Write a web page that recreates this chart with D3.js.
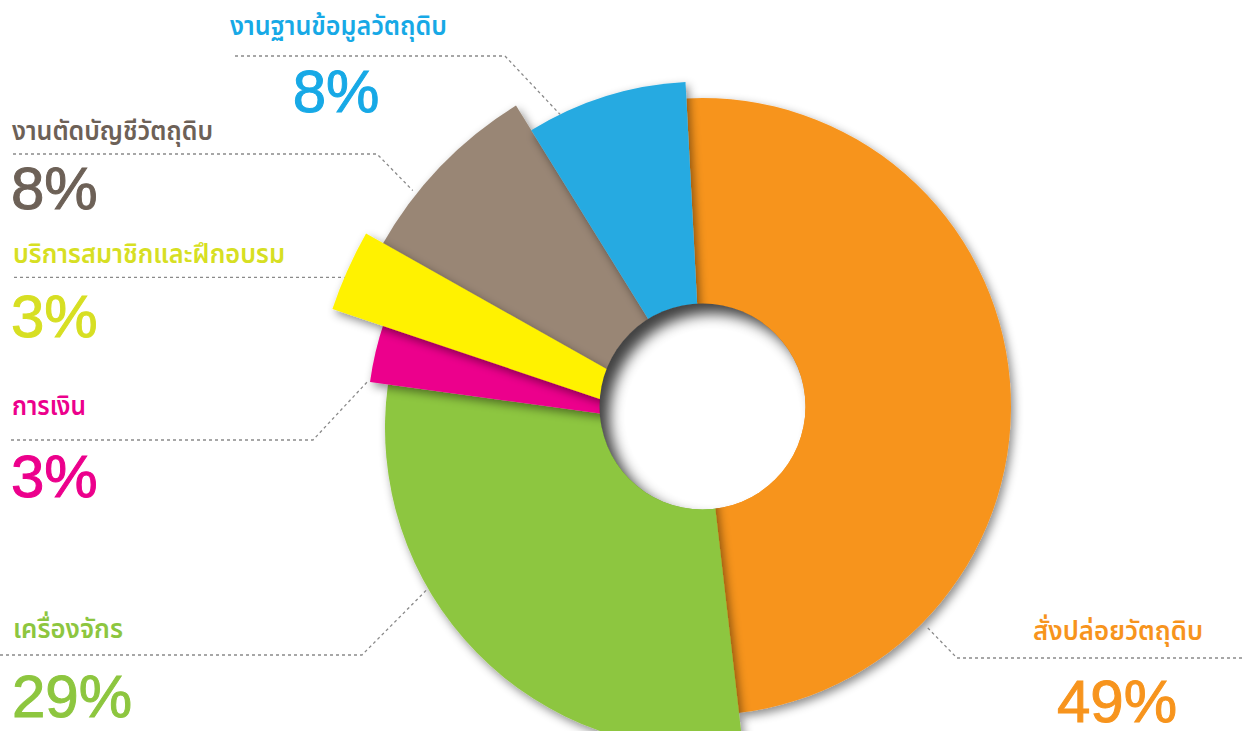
<!DOCTYPE html>
<html>
<head>
<meta charset="utf-8">
<script src="https://cdn.jsdelivr.net/npm/d3@7"></script>
<style>
  html, body { margin: 0; padding: 0; background: #fff; }
  svg { display: block; }
  .title { font-family: "Noto Sans Thai", "Loma", "Garuda", "Tlwg Typo", "Noto Sans", sans-serif; font-weight: 600; }
  .pct { font-family: "Liberation Sans", Arial, sans-serif; }
</style>
</head>
<body>
<div id="chart"></div>
<script>
// data
var categories = ["สั่งปล่อยวัตถุดิบ", "เครื่องจักร", "การเงิน", "บริการสมาชิกและฝึกอบรม", "งานตัดบัญชีวัตถุดิบ", "งานฐานข้อมูลวัตถุดิบ"];
var values = [49, 29, 3, 3, 8, 8];
var pctLabels = ["49%", "29%", "3%", "3%", "8%", "8%"];
var sliceColors = ["#f7941e", "#8dc63f", "#ec008c", "#fff200", "#998675", "#27aae1"];
var textColors = ["#f7941d", "#8dc63f", "#ec008c", "#d7df23", "#6d6157", "#17a9e6"];

var width = 1242, height = 731;
var cx = 702.5, cy = 406.5, holeR = 103;

// per slice: shift of the slice apex and its radius (exploded look)
var sliceLayout = [
  {dx: 0, dy: 0, r: 308.5},
  {dx: 3.5, dy: 21.5, r: 321},
  {dx: -11.5, dy: 19.5, r: 324},
  {dx: 46, dy: 42.5, r: 439},
  {dx: 19, dy: 30.5, r: 390},
  {dx: 0, dy: 0, r: 325}
];
var drawOrder = [0, 1, 4, 5, 2, 3];

// label placement: title, dashed leader, percentage
var labelLayout = [
  {tx: 1033, ty: 640, tw: 170, px: 1117, py: 722, anchor: "middle", lx0: 1242, ly: 658, lx1: 957, angle: 134.5, gap: 6},
  {tx: 13, ty: 638, tw: 110, px: 12, py: 717, anchor: "start", lx0: 0, ly: 655, lx1: 362, angle: 240, gap: 0},
  {tx: 12, ty: 415, tw: 74, px: 11, py: 497, anchor: "start", lx0: 11, ly: 440, lx1: 313, angle: 277.7, gap: 3},
  {tx: 13, ty: 263, tw: 272, px: 11, py: 337, anchor: "start", lx0: 14, ly: 276, lx1: null, angle: 293, gap: 0},
  {tx: 12, ty: 140, tw: 201, px: 11, py: 209, anchor: "start", lx0: 13, ly: 154, lx1: 377, angle: 308.6, gap: 5},
  {tx: 230, ty: 35, tw: 217, px: 336, py: 112, anchor: "middle", lx0: 235, ly: 56, lx1: 505, angle: 334, gap: 0}
];

var svg = d3.select("#chart")
  .append("svg")
  .attr("width", width)
  .attr("height", height);

var defs = svg.append("defs");

var shadow = defs.append("filter")
  .attr("id", "shadow")
  .attr("x", "-30%").attr("y", "-30%")
  .attr("width", "160%").attr("height", "160%");
shadow.append("feDropShadow")
  .attr("dx", 3).attr("dy", 4)
  .attr("stdDeviation", 5)
  .attr("flood-color", "#000")
  .attr("flood-opacity", 0.45);

var blur = defs.append("filter")
  .attr("id", "innerBlur")
  .attr("x", "-20%").attr("y", "-20%")
  .attr("width", "140%").attr("height", "140%");
blur.append("feGaussianBlur").attr("stdDeviation", 7);

defs.append("clipPath")
  .attr("id", "holeClip")
  .append("circle")
  .attr("cx", cx).attr("cy", cy).attr("r", holeR);

var pie = d3.pie()
  .sort(null)
  .value(function(d) { return d; })
  .startAngle(-3 * Math.PI / 180)
  .endAngle(357 * Math.PI / 180);

var arcs = pie(values);

var arc = d3.arc().innerRadius(0);

// slices
var slices = svg.append("g");
drawOrder.forEach(function(i) {
  var L = sliceLayout[i];
  slices.append("path")
    .attr("transform", "translate(" + (cx + L.dx) + "," + (cy + L.dy) + ")")
    .attr("d", arc.outerRadius(L.r)(arcs[i]))
    .attr("fill", sliceColors[i])
    .attr("filter", "url(#shadow)");
});

// hole with inner shadow
var hole = svg.append("g").attr("clip-path", "url(#holeClip)");
hole.append("circle")
  .attr("cx", cx).attr("cy", cy).attr("r", holeR)
  .attr("fill", "#fff");
var big = 200, off = 10;
hole.append("path")
  .attr("d",
    "M" + (cx - big) + "," + (cy - big) +
    "h" + (2 * big) + "v" + (2 * big) + "h" + (-2 * big) + "Z" +
    "M" + (cx + off + holeR) + "," + (cy + off) +
    "a" + holeR + "," + holeR + " 0 1,0 " + (-2 * holeR) + ",0" +
    "a" + holeR + "," + holeR + " 0 1,0 " + (2 * holeR) + ",0Z")
  .attr("fill", "#000")
  .attr("fill-rule", "evenodd")
  .attr("opacity", 0.75)
  .attr("filter", "url(#innerBlur)");

// labels
var labels = svg.append("g");
labelLayout.forEach(function(o, i) {
  var L = sliceLayout[i];
  var a = o.angle * Math.PI / 180;
  var ax = cx + L.dx + (L.r + o.gap) * Math.sin(a);
  var ay = cy + L.dy - (L.r + o.gap) * Math.cos(a);
  var pts = o.lx1 === null
    ? [[o.lx0, ay], [ax, ay]]
    : [[o.lx0, o.ly], [o.lx1, o.ly], [ax, ay]];

  labels.append("path")
    .attr("d", d3.line()(pts))
    .attr("fill", "none")
    .attr("stroke", "#8a8a8a")
    .attr("stroke-width", 1.3)
    .attr("stroke-dasharray", "3,3");

  labels.append("text")
    .attr("class", "title")
    .attr("x", o.tx)
    .attr("y", o.ty)
    .attr("textLength", o.tw)
    .attr("lengthAdjust", "spacingAndGlyphs")
    .attr("font-size", 26)
    .attr("fill", textColors[i])
    .text(categories[i]);

  labels.append("text")
    .attr("class", "pct")
    .attr("x", o.px)
    .attr("y", o.py)
    .attr("text-anchor", o.anchor)
    .attr("font-size", 60)
    .attr("fill", textColors[i])
    .attr("stroke", textColors[i])
    .attr("stroke-width", 1)
    .text(pctLabels[i]);
});
</script>
</body>
</html>
